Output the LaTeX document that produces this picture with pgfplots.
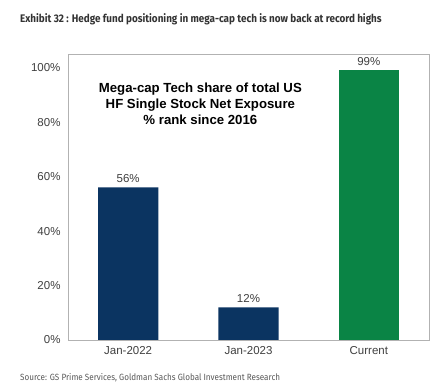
\documentclass[border=0pt]{standalone}
\usepackage{pgfplots}
\pgfplotsset{compat=1.18}
\usepackage{fontspec}
\setmainfont{Liberation Sans}
\newfontfamily\titlefont[FakeStretch=0.9]{Fira Sans}
\definecolor{navy}{HTML}{0B3461}
\definecolor{gsgreen}{HTML}{0A8445}
\definecolor{ticktxt}{HTML}{404040}
\begin{document}
\begin{tikzpicture}
\path[use as bounding box, fill=white] (0,0) rectangle (442bp,392bp);
\node[anchor=base west, inner sep=0pt, text=black!80] at (20bp,369bp) {\titlefont\bfseries\fontsize{11bp}{13bp}\selectfont Exhibit 32 : Hedge fund positioning in mega-cap tech is now back at record highs};
\node[anchor=base west, inner sep=0pt, text=black!65] at (20bp,12bp) {\titlefont\fontsize{9bp}{11bp}\selectfont Source: GS Prime Services, Goldman Sachs Global Investment Research};
\begin{axis}[
  at={(68bp,52bp)}, anchor=south west,
  scale only axis, width=361bp, height=286bp,
  ymin=0, ymax=105, xmin=-0.5, xmax=2.5,
  ytick={0,20,40,60,80,100},
  yticklabel={\pgfmathprintnumber{\tick}\%},
  xtick={0,1,2}, xticklabels={Jan-2022,Jan-2023,Current},
  /pgf/number format/assume math mode=true,
  axis line style={draw=black!30},
  major tick length=0pt,
  tick label style={font=\fontsize{11.5bp}{13bp}\selectfont, text=ticktxt},
  yticklabel style={xshift=-4bp},
  xticklabel style={yshift=-3bp},
  ybar, bar width=0.5, bar shift=0pt,
  nodes near coords={\pgfmathprintnumber{\pgfplotspointmeta}\%},
  nodes near coords style={font=\fontsize{11.5bp}{13bp}\selectfont, text=ticktxt, yshift=1bp},
]
\addplot[fill=navy, draw=none] coordinates {(0,56) (1,12)};
\addplot[fill=gsgreen, draw=none] coordinates {(2,99)};
\node[align=center, font=\bfseries\fontsize{13.2bp}{15.8bp}\selectfont, text=black] at (axis cs:0.6,86.8) {Mega-cap Tech share of total US\\HF Single Stock Net Exposure\\\% rank since 2016};
\end{axis}
\end{tikzpicture}
\end{document}
